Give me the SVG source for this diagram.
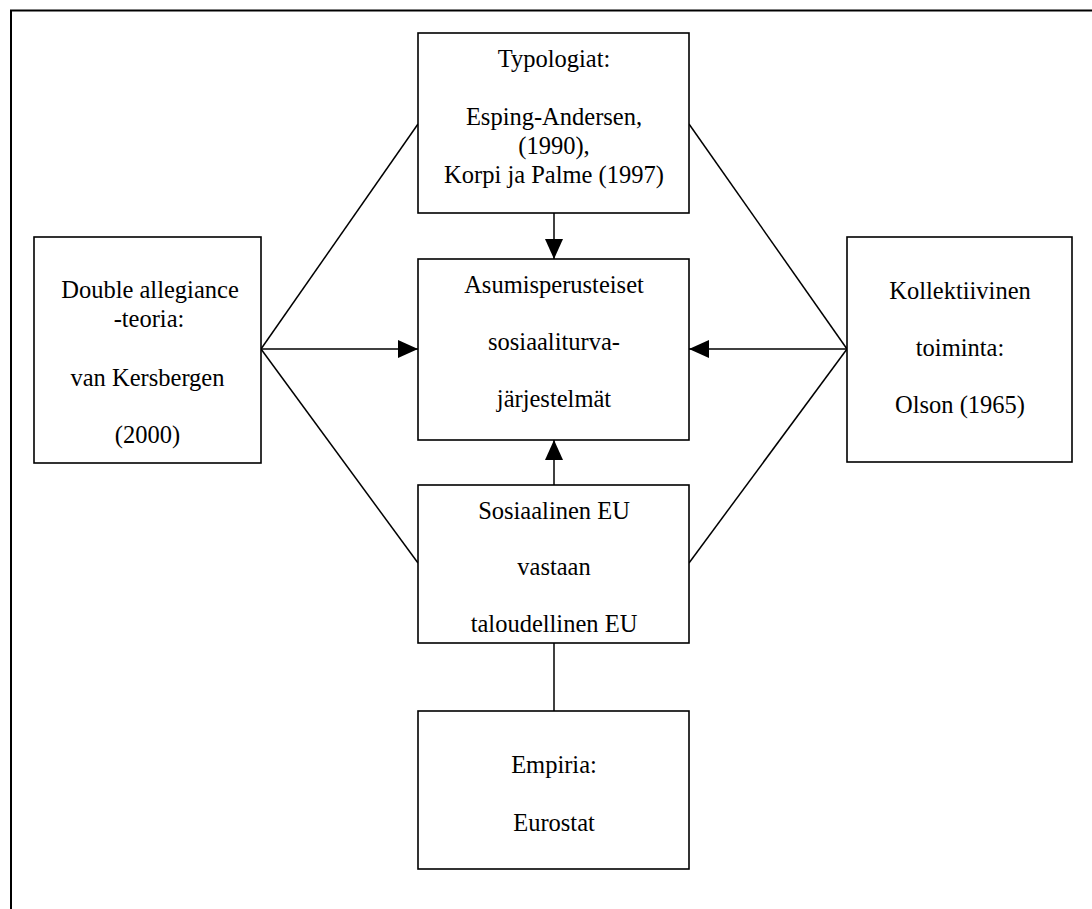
<svg xmlns="http://www.w3.org/2000/svg" width="1092" height="909" viewBox="0 0 1092 909">
<style>
.box{fill:#fff;stroke:#000;stroke-width:1.6}
.ln{stroke:#000;stroke-width:1.5;fill:none}
text{font-family:"Liberation Serif","Times New Roman",serif;font-size:24.5px;fill:#000;text-anchor:middle}
</style>
<defs>
<marker id="ah" viewBox="0 0 20 18" refX="20" refY="9" markerWidth="20" markerHeight="18" markerUnits="userSpaceOnUse" orient="auto">
<path d="M0,0 L20,9 L0,18 Z" fill="#000"/>
</marker>
</defs>
<rect width="1092" height="909" fill="#fff"/>
<path d="M11,909 V10.5 H1092" fill="none" stroke="#000" stroke-width="2"/>
<g id="connectors">
<line class="ln" x1="261" y1="349" x2="418" y2="124"/>
<line class="ln" x1="261" y1="349" x2="418" y2="563"/>
<line class="ln" x1="847" y1="349" x2="689" y2="124"/>
<line class="ln" x1="847" y1="349" x2="689" y2="563"/>
<line class="ln" x1="554" y1="213" x2="554" y2="259" marker-end="url(#ah)"/>
<line class="ln" x1="261" y1="349" x2="418" y2="349" marker-end="url(#ah)"/>
<line class="ln" x1="847" y1="349" x2="689" y2="349" marker-end="url(#ah)"/>
<line class="ln" x1="554" y1="485" x2="554" y2="440" marker-end="url(#ah)"/>
<line class="ln" x1="554" y1="643" x2="554" y2="711"/>
</g>
<g id="typologiat">
<rect class="box" x="418" y="33" width="271" height="180"/>
<text x="554" y="67">Typologiat:</text>
<text x="554" y="125">Esping-Andersen,</text>
<text x="554" y="154">(1990),</text>
<text x="554" y="183">Korpi ja Palme (1997)</text>
</g>
<g id="asumis">
<rect class="box" x="418" y="259" width="271" height="181"/>
<text x="554" y="293">Asumisperusteiset</text>
<text x="554" y="350">sosiaaliturva-</text>
<text x="554" y="407">järjestelmät</text>
</g>
<g id="double">
<rect class="box" x="34" y="237" width="227" height="226"/>
<text x="150" y="298">Double allegiance</text>
<text x="149" y="327">-teoria:</text>
<text x="147.5" y="386">van Kersbergen</text>
<text x="147.5" y="443">(2000)</text>
</g>
<g id="kollektiivinen">
<rect class="box" x="847" y="237" width="225" height="225"/>
<text x="960" y="299">Kollektiivinen</text>
<text x="960" y="356">toiminta:</text>
<text x="960" y="413">Olson (1965)</text>
</g>
<g id="sosiaalinen">
<rect class="box" x="418" y="485" width="271" height="158"/>
<text x="554" y="519">Sosiaalinen EU</text>
<text x="554" y="575">vastaan</text>
<text x="554" y="632">taloudellinen EU</text>
</g>
<g id="empiria">
<rect class="box" x="418" y="711" width="271" height="158"/>
<text x="554" y="773">Empiria:</text>
<text x="554" y="831">Eurostat</text>
</g>
</svg>
